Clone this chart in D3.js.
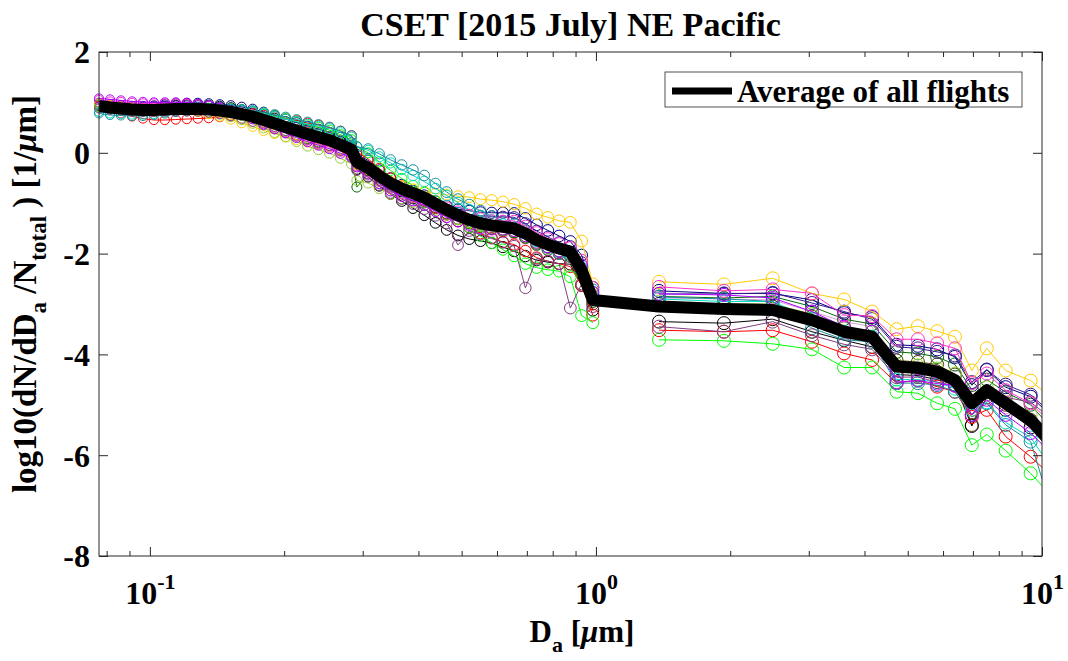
<!DOCTYPE html>
<html><head><meta charset="utf-8">
<script src="https://cdn.jsdelivr.net/npm/d3@7"></script>
<style>
body{margin:0;background:#fff}
svg text{font-family:"Liberation Serif","Times New Roman",serif;font-weight:bold;fill:#000}
</style>
</head><body>
<svg id="c" width="1068" height="661"></svg>
<script>
// ---------------- DATA ----------------
const title = "CSET [2015 July] NE Pacific";
const legendLabel = "Average of all flights";
const xMajorTicks = [0.1, 1, 10];
const xMajorLabels = ["-1", "0", "1"];
const xMinorTicks = [0.08,0.09,0.2,0.3,0.4,0.5,0.6,0.7,0.8,0.9,2,3,4,5,6,7,8,9];
const yTicks = [-8,-6,-4,-2,0,2];
const yTickLabels = ["-8","-6","-4","-2","0","2"];

// diameters (um)
const fineDiam = [0.0769,0.0814,0.0861,0.0912,0.0965,0.1021,0.1080,0.1143,0.1210,0.1281,0.1355,0.1434,0.1518,0.1606,0.1700,0.1799,0.1904,0.2015,0.2133,0.2257,0.2388,0.2528,0.2675,0.2831,
  0.2911,0.3085,0.3268,0.3463,0.3670,0.3890,0.4122,0.4368,0.4629,0.4906,0.5199,0.5509,0.5838,0.6187,0.6556,0.6948,0.7362,0.7802,0.8268,0.8762,0.9286,0.9840];
const coarseDiam = [1.385,1.936,2.49,3.05,3.60,4.16,4.72,5.27,5.82,6.38,6.96,7.52,8.29,9.43,10.6];

// average of all flights
const avgFine = [0.93,0.90,0.88,0.86,0.85,0.85,0.86,0.87,0.87,0.87,0.86,0.84,0.81,0.77,0.72,0.65,0.58,0.51,0.44,0.37,0.31,0.25,0.16,0.06,
  -0.18,-0.30,-0.46,-0.60,-0.71,-0.80,-0.89,-1.01,-1.13,-1.24,-1.33,-1.40,-1.44,-1.47,-1.50,-1.60,-1.73,-1.82,-1.90,-1.96,-2.33,-2.92];
const avgCoarse = [-3.05,-3.10,-3.12,-3.32,-3.55,-3.65,-4.24,-4.27,-4.34,-4.51,-4.97,-4.71,-4.97,-5.30,-5.80];

// individual flights
const plumFine = [1.00,0.97,0.95,0.93,0.92,0.92,0.93,0.93,0.92,0.91,0.89,0.86,0.81,0.75,0.68,0.60,0.52,0.44,0.36,0.29,0.22,0.15,0.06,-0.05,
  -0.32,-0.45,-0.62,-0.76,-0.86,-0.95,-1.04,-1.16,-1.27,-1.37,-1.45,-1.52,-1.56,-1.58,-1.60,-1.70,-1.83,-1.92,-2.00,-2.06,-2.40,-2.95];
const plumCoarse = [-2.88,-2.90,-2.92,-3.15,-3.35,-3.45,-4.30,-4.30,-4.35,-4.45,-4.95,-4.75,-5.05,-5.35,-5.85];

const oliveFine = [0.93,0.91,0.89,0.88,0.87,0.87,0.88,0.89,0.89,0.88,0.87,0.85,0.82,0.78,0.73,0.66,0.59,0.52,0.45,0.38,0.32,0.26,0.17,0.07,
  -0.22,-0.35,-0.51,-0.66,-0.77,-0.86,-0.96,-1.08,-1.20,-1.31,-1.40,-1.47,-1.51,-1.55,-1.58,-1.68,-1.80,-1.88,-1.96,-2.02,-2.40,-3.00];
const oliveCoarse = [-3.00,-3.02,-3.05,-3.25,-3.48,-3.55,-4.12,-4.15,-4.20,-4.40,-5.40,-4.75,-5.00,-5.30,-5.80];

const darkGreenFine = [0.92,0.90,0.88,0.87,0.86,0.86,0.87,0.88,0.88,0.88,0.86,0.83,0.79,0.74,0.68,0.60,0.52,0.44,0.36,0.28,0.21,0.14,0.04,-0.08,
  -0.68,-0.42,-0.56,-0.70,-0.80,-0.90,-0.99,-1.10,-1.22,-1.32,-1.40,-1.46,-1.50,-1.53,-1.57,-1.68,-1.82,-1.92,-2.00,-2.05,-2.40,-2.95];
const darkGreenCoarse = [-2.85,-2.88,-2.85,-3.05,-3.30,-3.40,-3.95,-3.98,-4.05,-4.20,-4.70,-4.50,-4.75,-5.00,-5.50];

const blackFine = [0.95,0.93,0.91,0.90,0.90,0.91,0.93,0.95,0.96,0.96,0.95,0.93,0.90,0.86,0.82,0.76,0.69,0.62,0.55,0.47,0.40,0.33,0.23,0.12,
  -0.33,-0.48,-0.66,-0.82,-0.96,-1.10,-1.24,-1.39,-1.53,-1.64,-1.71,-1.75,-1.79,-1.87,-1.95,-2.05,-2.13,-2.17,-2.20,-2.21,-2.63,-3.12];
const blackCoarse = [-3.35,-3.38,-3.30,-3.55,-3.72,-3.85,-4.40,-4.42,-4.50,-4.60,-5.42,-4.85,-5.10,-5.45,-5.90];

const navyFine = [0.96,0.95,0.94,0.93,0.93,0.94,0.96,0.98,0.99,0.99,0.98,0.96,0.94,0.91,0.87,0.81,0.74,0.67,0.60,0.53,0.47,0.40,0.31,0.20,
  -0.03,-0.15,-0.34,-0.50,-0.63,-0.75,-0.84,-0.96,-1.05,-1.12,-1.15,-1.18,-1.19,-1.19,-1.20,-1.30,-1.43,-1.54,-1.65,-1.76,-2.03,-2.67];
const navyCoarse = [-2.74,-2.79,-2.79,-2.92,-3.18,-3.26,-3.81,-3.83,-3.90,-4.05,-4.61,-4.31,-4.65,-4.84,-5.25];

const indigoFine = [0.99,0.97,0.95,0.93,0.92,0.92,0.93,0.94,0.94,0.94,0.93,0.91,0.88,0.84,0.79,0.72,0.65,0.58,0.51,0.44,0.37,0.30,0.21,0.11,
  -0.13,-0.27,-0.46,-0.63,-0.76,-0.85,-0.94,-1.04,-1.13,-1.19,-1.23,-1.25,-1.26,-1.27,-1.28,-1.40,-1.55,-1.67,-1.78,-1.86,-2.18,-2.82];
const indigoCoarse = [-2.80,-2.80,-2.78,-2.98,-3.15,-3.30,-3.85,-3.88,-3.95,-4.02,-4.55,-4.30,-4.60,-4.80,-5.20];

const redFine = [0.93,0.85,0.78,0.72,0.68,0.65,0.65,0.66,0.67,0.68,0.69,0.71,0.74,0.77,0.78,0.75,0.72,0.68,0.64,0.59,0.55,0.50,0.43,0.34,
  0.02,-0.12,-0.31,-0.50,-0.66,-0.80,-0.94,-1.09,-1.23,-1.36,-1.48,-1.60,-1.69,-1.77,-1.82,-1.95,-2.08,-2.15,-2.20,-2.26,-2.63,-3.22];
const redCoarse = [-3.52,-3.55,-3.52,-3.75,-3.98,-4.11,-4.57,-4.51,-4.64,-4.74,-5.24,-5.10,-5.63,-6.03,-6.45];

const limeFine = [0.90,0.86,0.84,0.83,0.83,0.84,0.86,0.87,0.88,0.89,0.89,0.89,0.88,0.86,0.83,0.78,0.73,0.68,0.62,0.56,0.51,0.45,0.36,0.26,
  0.12,0.00,-0.18,-0.35,-0.51,-0.65,-0.79,-0.96,-1.13,-1.32,-1.48,-1.65,-1.79,-1.92,-2.05,-2.20,-2.28,-2.32,-2.35,-2.46,-3.23,-3.37];
const limeCoarse = [-3.71,-3.73,-3.79,-3.90,-4.26,-4.26,-4.74,-4.77,-4.97,-5.08,-5.80,-5.59,-5.91,-6.36,-6.85];

const yellowFine = [0.98,0.95,0.92,0.89,0.87,0.87,0.86,0.85,0.83,0.81,0.77,0.72,0.66,0.59,0.52,0.44,0.38,0.32,0.26,0.21,0.17,0.13,0.06,-0.02,
  -0.23,-0.33,-0.46,-0.57,-0.66,-0.72,-0.77,-0.81,-0.83,-0.86,-0.88,-0.92,-0.94,-0.97,-1.02,-1.10,-1.21,-1.28,-1.35,-1.38,-1.75,-2.60];
const yellowCoarse = [-2.56,-2.61,-2.49,-2.79,-2.91,-3.15,-3.50,-3.44,-3.54,-3.65,-4.32,-3.88,-4.32,-4.52,-4.90];

const yellowGreenFine = [0.95,0.92,0.90,0.88,0.86,0.85,0.86,0.86,0.85,0.83,0.80,0.76,0.71,0.65,0.58,0.49,0.40,0.31,0.22,0.13,0.06,-0.01,-0.11,-0.22,
  -0.55,-0.60,-0.71,-0.82,-0.91,-0.98,-1.04,-1.13,-1.23,-1.32,-1.38,-1.45,-1.49,-1.52,-1.55,-1.65,-1.78,-1.87,-1.95,-2.01,-2.33,-2.82];
const yellowGreenCoarse = [-2.95,-3.00,-3.00,-3.20,-3.45,-3.55,-4.20,-4.22,-4.28,-4.38,-4.85,-4.65,-4.95,-5.20,-5.70];

const turquoiseFine = [0.81,0.78,0.77,0.76,0.76,0.77,0.80,0.83,0.85,0.87,0.88,0.88,0.87,0.85,0.82,0.77,0.72,0.67,0.62,0.57,0.53,0.48,0.40,0.31,
  0.12,0.05,-0.08,-0.20,-0.33,-0.45,-0.57,-0.71,-0.85,-0.99,-1.13,-1.25,-1.34,-1.42,-1.48,-1.60,-1.75,-1.87,-1.95,-2.01,-2.28,-2.77];
const turquoiseCoarse = [-2.90,-2.95,-2.95,-3.30,-3.55,-3.65,-4.50,-4.50,-4.55,-4.68,-5.10,-4.95,-5.35,-5.65,-6.30];

const tealFine = [0.78,0.75,0.74,0.73,0.73,0.75,0.78,0.81,0.83,0.85,0.86,0.87,0.87,0.86,0.84,0.80,0.76,0.71,0.66,0.61,0.56,0.51,0.43,0.34,
  0.12,0.08,-0.02,-0.14,-0.24,-0.34,-0.45,-0.61,-0.78,-0.92,-1.03,-1.15,-1.26,-1.35,-1.42,-1.55,-1.73,-1.87,-2.00,-2.06,-2.33,-2.72];
const tealCoarse = [-2.86,-2.90,-2.95,-3.48,-3.71,-3.75,-4.57,-4.57,-4.61,-4.74,-5.20,-4.97,-5.40,-5.73,-7.20];

const purpleFine = [0.88,0.86,0.84,0.82,0.81,0.81,0.82,0.82,0.82,0.82,0.80,0.77,0.73,0.68,0.62,0.55,0.47,0.40,0.33,0.26,0.20,0.14,0.05,-0.06,
  -0.35,-0.48,-0.65,-0.80,-0.92,-1.02,-1.12,-1.25,-1.40,-1.83,-1.55,-1.62,-1.70,-1.78,-1.85,-2.68,-2.10,-2.15,-2.20,-3.08,-2.60,-3.05];
const purpleCoarse = [-3.45,-3.55,-3.35,-3.62,-3.80,-3.90,-4.45,-4.45,-4.55,-4.62,-5.20,-4.80,-4.85,-4.95,-5.30];

const magentaFine = [1.05,1.02,1.01,0.99,0.98,0.98,0.98,0.98,0.97,0.96,0.93,0.89,0.83,0.77,0.69,0.60,0.51,0.42,0.34,0.25,0.18,0.11,0.03,-0.06,
  -0.26,-0.38,-0.56,-0.70,-0.81,-0.88,-0.94,-1.01,-1.08,-1.16,-1.23,-1.30,-1.34,-1.35,-1.35,-1.45,-1.58,-1.70,-1.80,-1.88,-2.13,-2.67];
const magentaCoarse = [-2.66,-2.74,-2.71,-2.79,-3.22,-3.24,-3.70,-3.70,-3.78,-3.88,-4.57,-4.38,-4.71,-4.97,-5.40];

const violetFine = [1.08,1.06,1.04,1.02,1.01,1.00,1.00,1.00,0.99,0.97,0.94,0.89,0.83,0.75,0.67,0.57,0.48,0.39,0.30,0.22,0.15,0.08,-0.01,-0.09,
  -0.28,-0.42,-0.61,-0.75,-0.86,-0.95,-1.04,-1.16,-1.28,-1.36,-1.43,-1.50,-1.52,-1.52,-1.55,-1.65,-1.78,-1.87,-1.95,-1.98,-2.23,-2.77];
const violetCoarse = [-2.80,-2.82,-2.88,-3.15,-3.45,-3.55,-4.55,-4.52,-4.58,-4.62,-5.20,-4.90,-5.20,-5.56,-6.00];

// drawing order (first drawn at bottom)
const flights = [
  {fine: plumFine, coarse: plumCoarse, color: "#d9a0d9"},
  {fine: oliveFine, coarse: oliveCoarse, color: "#4d3b00"},
  {fine: darkGreenFine, coarse: darkGreenCoarse, color: "#0a6a0a"},
  {fine: blackFine, coarse: blackCoarse, color: "#000000"},
  {fine: navyFine, coarse: navyCoarse, color: "#000080"},
  {fine: indigoFine, coarse: indigoCoarse, color: "#3a1c8c"},
  {fine: redFine, coarse: redCoarse, color: "#ff0000"},
  {fine: limeFine, coarse: limeCoarse, color: "#00ff00"},
  {fine: yellowFine, coarse: yellowCoarse, color: "#ffcc00"},
  {fine: yellowGreenFine, coarse: yellowGreenCoarse, color: "#99cc33"},
  {fine: turquoiseFine, coarse: turquoiseCoarse, color: "#00ddc0"},
  {fine: tealFine, coarse: tealCoarse, color: "#1a8f9f"},
  {fine: purpleFine, coarse: purpleCoarse, color: "#7f3f7f"},
  {fine: magentaFine, coarse: magentaCoarse, color: "#ff33cc"},
  {fine: violetFine, coarse: violetCoarse, color: "#b000ff"}
];

// ---------------- CHART ----------------
const L = 99, R = 1042, T = 52, B = 556;
const axisColor = "#262626";
const svg = d3.select("#c");
const x = d3.scaleLog().domain([0.0769, 10]).range([L, R]);
const y = d3.scaleLinear().domain([-8, 2]).range([B, T]);
const rScale = d3.scaleLog().domain([0.0769, 0.29, 1]).range([4.5, 5, 6]).clamp(true);

svg.append("defs").append("clipPath").attr("id", "clip")
  .append("rect").attr("x", L).attr("y", T).attr("width", R - L).attr("height", B - T);

const plot = svg.append("g");
const line = d3.line().x(d => x(d[0])).y(d => y(d[1]));

flights.forEach(f => {
  const g = plot.append("g");
  const finePts = fineDiam.map((d, i) => [d, f.fine[i]]);
  const coarsePts = coarseDiam.map((d, i) => [d, f.coarse[i]]);
  [finePts, coarsePts].forEach(pts => {
    g.append("path").attr("d", line(pts)).attr("fill", "none")
      .attr("stroke", f.color).attr("stroke-width", 1).attr("clip-path", "url(#clip)");
  });
  const circ = finePts.concat(coarsePts.filter(p => p[0] <= 10));
  g.selectAll("circle").data(circ).join("circle")
    .attr("cx", d => x(d[0])).attr("cy", d => y(d[1]))
    .attr("r", d => d[0] > 1.2 ? 6.5 : rScale(d[0]))
    .attr("fill", "none").attr("stroke", f.color).attr("stroke-width", 1);
});

// average line
const avgPts = fineDiam.map((d, i) => [d, avgFine[i]]).concat(coarseDiam.map((d, i) => [d, avgCoarse[i]]));
plot.append("path").attr("d", line(avgPts)).attr("fill", "none")
  .attr("stroke", "#000").attr("stroke-width", 12).attr("stroke-linejoin", "round")
  .attr("clip-path", "url(#clip)");

// axes
function clean(g) {
  g.select(".domain").remove();
  g.attr("font-family", null).attr("font-size", null);
  g.selectAll(".tick line").attr("stroke", axisColor).attr("stroke-width", 1);
}
// bottom
const xb = svg.append("g").attr("transform", `translate(0,${B})`)
  .call(d3.axisBottom(x).tickValues(xMajorTicks).tickSize(-9).tickSizeOuter(0).tickPadding(0));
clean(xb);
xb.selectAll(".tick text").each(function(d, i) {
  const t = d3.select(this);
  t.text(null).attr("y", 48).attr("dy", null).attr("font-size", 32);
  t.append("tspan").text("10");
  t.append("tspan").attr("dy", -15).attr("font-size", 22).text(xMajorLabels[i]);
});
svg.append("g").attr("transform", `translate(0,${B})`)
  .call(d3.axisBottom(x).tickValues(xMinorTicks).tickSize(-5).tickSizeOuter(0).tickFormat(""))
  .call(clean);
// top
svg.append("g").attr("transform", `translate(0,${T})`)
  .call(d3.axisTop(x).tickValues(xMajorTicks).tickSize(-9).tickSizeOuter(0).tickFormat(""))
  .call(clean);
svg.append("g").attr("transform", `translate(0,${T})`)
  .call(d3.axisTop(x).tickValues(xMinorTicks).tickSize(-5).tickSizeOuter(0).tickFormat(""))
  .call(clean);
// left
const yl = svg.append("g").attr("transform", `translate(${L},0)`)
  .call(d3.axisLeft(y).tickValues(yTicks).tickSize(-9).tickSizeOuter(0).tickPadding(9)
    .tickFormat((d, i) => yTickLabels[i]));
clean(yl);
yl.selectAll(".tick text").attr("font-size", 32).attr("dy", "0.34em");
// right
svg.append("g").attr("transform", `translate(${R},0)`)
  .call(d3.axisRight(y).tickValues(yTicks).tickSize(-9).tickSizeOuter(0).tickFormat(""))
  .call(clean);

// box
svg.append("rect").attr("x", L).attr("y", T).attr("width", R - L).attr("height", B - T)
  .attr("fill", "none").attr("stroke", axisColor).attr("stroke-width", 1);

// title
svg.append("text").attr("x", (L + R) / 2).attr("y", 36).attr("text-anchor", "middle")
  .attr("font-size", 34).text(title);

// x label
const xl = svg.append("text").attr("x", 582).attr("y", 642).attr("text-anchor", "middle").attr("font-size", 31);
xl.append("tspan").text("D");
xl.append("tspan").attr("dy", 10).attr("font-size", 22).text("a");
xl.append("tspan").attr("dy", -10).text(" [");
xl.append("tspan").attr("font-style", "italic").text("\u03bc");
xl.append("tspan").text("m]");

// y label
const ylab = svg.append("text").attr("transform", `translate(36,294) rotate(-90)`)
  .attr("text-anchor", "middle").attr("font-size", 33);
ylab.append("tspan").text("log10(dN/dD");
ylab.append("tspan").attr("dy", 10).attr("font-size", 23).text("a");
ylab.append("tspan").attr("dy", -10).text(" /N");
ylab.append("tspan").attr("dy", 10).attr("font-size", 23).text("total");
ylab.append("tspan").attr("dy", -10).text(" ) [1/");
ylab.append("tspan").attr("font-style", "italic").text("\u03bc");
ylab.append("tspan").text("m]");

// legend
const lg = svg.append("g");
lg.append("rect").attr("x", 665).attr("y", 72).attr("width", 357).attr("height", 35)
  .attr("fill", "#fff").attr("stroke", axisColor).attr("stroke-width", 0.8);
lg.append("line").attr("x1", 672).attr("x2", 732).attr("y1", 91).attr("y2", 91)
  .attr("stroke", "#000").attr("stroke-width", 7);
lg.append("text").attr("x", 737).attr("y", 102).attr("font-size", 31).text(legendLabel);
</script>
</body></html>
